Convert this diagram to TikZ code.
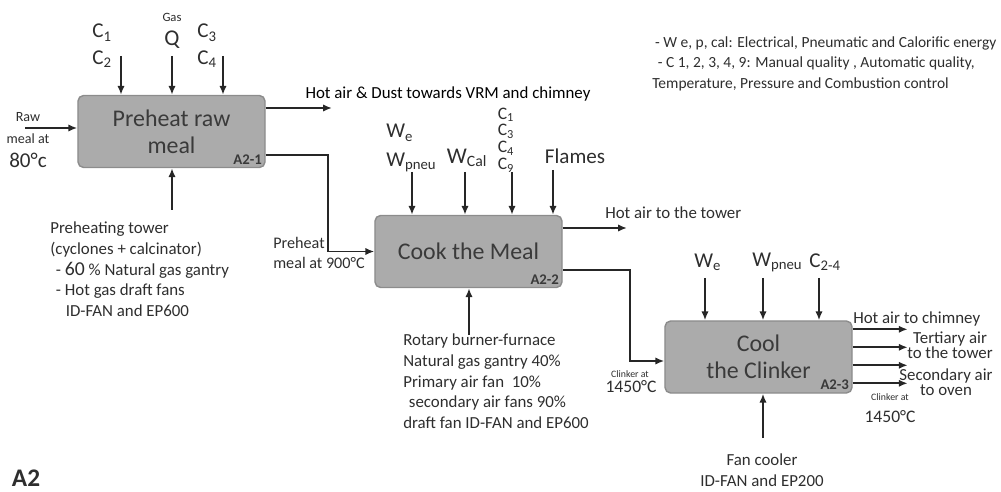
\documentclass[tikz,border=0pt]{standalone}
\usepackage{fontspec}
\setmainfont{Carlito}
\usetikzlibrary{arrows.meta, positioning, calc}

\definecolor{boxfill}{HTML}{ABABAB}
\definecolor{boxline}{HTML}{8C8C8C}
\definecolor{boxtext}{HTML}{3A3A3A}
\definecolor{labeltext}{HTML}{2E2E2E}

\begin{document}
\begin{tikzpicture}[
    x=0.025cm, y=-0.025cm,
    font=\fontsize{12}{14.6}\selectfont,
    % Define styles
    block/.style={
        rectangle,
        rounded corners=4pt,
        draw=boxline,
        fill=boxfill,
        text=boxtext,
        minimum width=4.675cm,
        minimum height=1.8cm,
        align=center,
        line width=1pt,
        font=\fontsize{17}{19}\selectfont
    },
    tag/.style={
        anchor=south east,
        inner sep=2.5pt,
        text=boxtext,
        font=\bfseries\fontsize{10.5}{11}\selectfont
    },
    sig/.style={
        inner sep=0pt,
        align=center,
        text=labeltext,
        font=\fontsize{15}{19}\selectfont
    },
    note/.style={
        inner sep=0pt,
        align=left,
        text=labeltext
    },
    line/.style={
        draw,
        -{Latex[length=2.2mm, width=1.8mm]},
        line width=1.3pt,
        black!85
    }
]

% Sheet
\useasboundingbox (0,0) rectangle (1001,492);

% Place nodes
% The three activity boxes
\node[block] (pre) at (171.5,131.5) {Preheat raw\\meal};
\node[block] (cook) at (468.5,251.5) {Cook the Meal};
\node[block] (cool) at (758.5,357) {Cool\\the Clinker};

\node[tag] at (pre.south east) {A2-1};
\node[tag] at (cook.south east) {A2-2};
\node[tag] at (cool.south east) {A2-3};

% Preheat: controls and inputs
\node[sig] (c12) at (102,46) {C\textsubscript{1}\\C\textsubscript{2}};
\node[note, font=\fontsize{9}{10}\selectfont] (gas) at (172,17) {Gas};
\node[sig, font=\fontsize{16}{19}\selectfont] (q) at (172,40) {Q};
\node[sig] (c34) at (207,46) {C\textsubscript{3}\\C\textsubscript{4}};

\node[note, font=\fontsize{10}{11}\selectfont] (raw) at (28,117) {Raw};
\node[note, font=\fontsize{10}{11}\selectfont] (rawat) at (28,139) {meal at};
\node[sig, font=\fontsize{15}{16}\selectfont] (raw80) at (28,160) {80°c};

\node (dust) at (448,94) {Hot air \& Dust towards VRM and chimney};
\node[note, anchor=west, font=\fontsize{11.5}{13}\selectfont] (prehot) at (273,243) {Preheat};
\node[note, anchor=west, font=\fontsize{11.5}{13}\selectfont] (prehotat) at (273,263) {meal at 900°C};

\node[note, anchor=north west] (tower) at (50,222) {Preheating tower\\(cyclones + calcinator)\\\hspace*{4pt}- {\fontsize{14}{14}\selectfont 60} \% Natural gas gantry\\\hspace*{4pt}- Hot gas draft fans\\\hspace*{11pt}ID-FAN and EP600};

% Cook: controls and inputs
\node[sig, anchor=west, align=left, font=\fontsize{15}{20}\selectfont] (wep) at (386,148) {W\textsubscript{e}\\W\textsubscript{pneu}};
\node[sig, font=\fontsize{16}{19}\selectfont] (wcal) at (467,158) {W\textsubscript{Cal}};
\node[sig, font=\fontsize{12.5}{12}\selectfont] (cstack) at (506,140) {C\textsubscript{1}\\C\textsubscript{3}\\C\textsubscript{4}\\C\textsubscript{9}};
\node[sig, font=\fontsize{15}{16}\selectfont] (flames) at (575,156) {Flames};

\node[note, anchor=west] (towerair) at (605,213) {Hot air to the tower};
\node[note, font=\fontsize{7}{8}\selectfont] (clk1) at (630,374) {Clinker at};
\node[note, font=\fontsize{12.5}{13}\selectfont] (clk1t) at (631,387) {1450°C};

\node[note, anchor=north west] (burner) at (403,334) {Rotary burner-furnace\\Natural gas gantry 40\%\\Primary air fan\ \ 10\%\\\hspace*{4pt}secondary air fans 90\%\\draft fan ID-FAN and EP600};

% Cool: controls and outputs
\node[sig, anchor=west] (we3) at (694,262) {W\textsubscript{e}};
\node[sig, anchor=west] (wp3) at (752,262) {W\textsubscript{pneu}};
\node[sig, anchor=west] (c24) at (809,262) {C\textsubscript{2-4}};

\node[note, anchor=west] (chim) at (853,319) {Hot air to chimney};
\node[note, align=center, font=\fontsize{12}{10.7}\selectfont] (tert) at (950,345) {Tertiary air\\to the tower};
\node[note, align=center, font=\fontsize{12}{10.7}\selectfont] (second) at (946,382) {Secondary air\\to oven};
\node[note, font=\fontsize{7}{8}\selectfont] (clk2) at (890,397) {Clinker at};
\node[note, font=\fontsize{12.5}{13}\selectfont] (clk2t) at (890,417) {1450°C};

\node[note, align=center] (fan) at (762,470) {Fan cooler\\ID-FAN and EP200};

% Legend and sheet name
\node[note, anchor=north west, font=\fontsize{11}{14.6}\selectfont] (legend) at (652,36) {\hspace*{2pt}- W e, p, cal: Electrical, Pneumatic and Calorific energy\\\hspace*{4pt}- C 1, 2, 3, 4, 9: Manual quality , Automatic quality,\\Temperature, Pressure and Combustion control};
\node[font=\bfseries\fontsize{18}{18}\selectfont, text=labeltext] (atwo) at (26,478) {A2};

% Arrow tails
\coordinate (c12in) at (121,56);
\coordinate (qin) at (172,56);
\coordinate (c34in) at (223,56);
\coordinate (rawin) at (25,128);
\coordinate (dustout) at (332,108);
\coordinate (towerin) at (172,210);
\coordinate (wein) at (412,172);
\coordinate (wcalin) at (465,172);
\coordinate (cin) at (512,172);
\coordinate (flamesin) at (553,170);
\coordinate (towerout) at (627,228);
\coordinate (burnerin) at (469,335);
\coordinate (we3in) at (705,278);
\coordinate (wp3in) at (763,278);
\coordinate (c24in) at (819,278);
\coordinate (coolerin) at (763,438);

% Draw edges
% Preheat
\path[line] (c12in) -- (c12in |- pre.north);
\path[line] (qin) -- (qin |- pre.north);
\path[line] (c34in) -- (c34in |- pre.north);
\path[line] (rawin) -- (rawin -| pre.west);
\path[line] (towerin) -- (towerin |- pre.south);
\path[line] (dustout -| pre.east) -- (dustout);
\path[line] ($(pre.south east)+(0,-13)$) -| ($(cook.west)+(-46,0)$) -- (cook.west);

% Cook
\path[line] (wein) -- (wein |- cook.north);
\path[line] (wcalin) -- (wcalin |- cook.north);
\path[line] (cin) -- (cin |- cook.north);
\path[line] (flamesin) -- (flamesin |- cook.north);
\path[line] (burnerin) -- (burnerin |- cook.south);
\path[line] (towerout -| cook.east) -- (towerout);
\path[line] ($(cook.south east)+(0,-18)$) -| ($(cool.west)+(-34,4)$) -- ($(cool.west)+(0,4)$);

% Cool
\path[line] (we3in) -- (we3in |- cool.north);
\path[line] (wp3in) -- (wp3in |- cool.north);
\path[line] (c24in) -- (c24in |- cool.north);
\path[line] (coolerin) -- (coolerin |- cool.south);
\foreach \dy [count=\i] in {9,27,45,63} {
    \coordinate (out\i) at ($(cool.north east)+(55,\dy)$);
    \path[line] (out\i -| cool.east) -- (out\i);
}

\end{tikzpicture}
\end{document}
